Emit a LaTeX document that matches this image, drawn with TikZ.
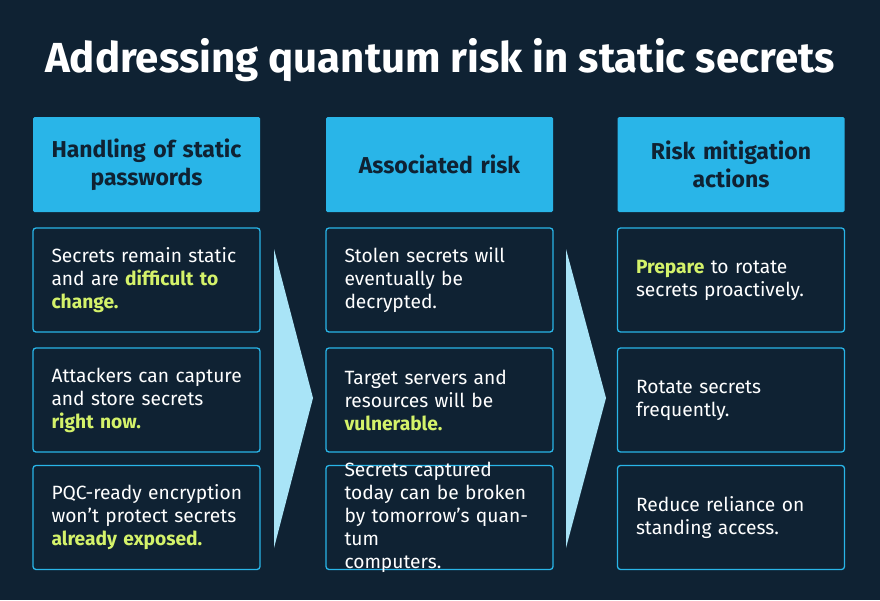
\documentclass[tikz,border=0pt]{standalone}
\usepackage{fontspec}
\setmainfont{Fira Sans}
\definecolor{navy}{HTML}{0F2233}
\definecolor{skyblue}{HTML}{29B5E8}
\definecolor{paleblue}{HTML}{A9E4F7}
\definecolor{lime}{HTML}{D4F26A}
\newcommand{\hl}[1]{\textcolor{lime}{\textbf{#1}}}
\begin{document}
\begin{tikzpicture}[x=1pt,y=-1pt,
  headbox/.style={draw=none,fill=skyblue,minimum width=227pt,minimum height=95pt,
    rounded corners=1.5pt,text=navy,font=\bfseries\fontsize{23}{28}\selectfont,align=center,text width=215pt},
  cellbox/.style={draw=skyblue,line width=1.3pt,fill=navy,minimum width=227pt,minimum height=104pt,
    rounded corners=3pt,text=white,font=\fontsize{19.2}{23}\selectfont,align=left,text width=200pt},
  celltext/.style={text=white,font=\fontsize{19.2}{23}\selectfont,align=left,text width=200pt,xshift=5pt},
  chevron/.style={fill=paleblue,draw=none}]
\fill[navy] (0,0) rectangle (880,600);
\node[text=white,font=\bfseries\fontsize{42}{46}\selectfont] (title) at (440,60) {Addressing quantum risk in static secrets};
% headers
\node[headbox] (h1) at (146.5,164.5) {Handling of static\\passwords};
\node[headbox] (h2) at (439.5,164.5) {Associated risk};
\node[headbox] (h3) at (731,164.5) {Risk mitigation\\actions};
% cell frames
\foreach \x/\c in {146.5/a,439.5/b,731/c}
  \foreach \y/\r in {280/1,400/2,517.5/3}
    \node[cellbox] (\c\r) at (\x,\y) {};
% column 1
\node[celltext] at (a1) {Secrets remain static\\and are \hl{difficult to}\\\hl{change.}};
\node[celltext] at (a2) {Attackers can capture\\and store secrets\\\hl{right now.}};
\node[celltext] at (a3) {PQC-ready encryption\\won’t protect secrets\\\hl{already exposed.}};
% column 2
\node[celltext] at (b1) {Stolen secrets will\\eventually be\\decrypted.};
\node[celltext] at (b2) {Target servers and\\resources will be\\\hl{vulnerable.}};
\node[celltext] at (b3) {Secrets captured\\today can be broken\\by tomorrow’s quantum\\computers.};
% column 3
\node[celltext] at (c1) {\hl{Prepare} to rotate\\secrets proactively.};
\node[celltext] at (c2) {Rotate secrets\\frequently.};
\node[celltext] at (c3) {Reduce reliance on\\standing access.};
% chevrons
\fill[chevron] (274,249) -- (313,398) -- (274,548) -- cycle;
\fill[chevron] (566,249) -- (606,398) -- (566,548) -- cycle;
\end{tikzpicture}
\end{document}
